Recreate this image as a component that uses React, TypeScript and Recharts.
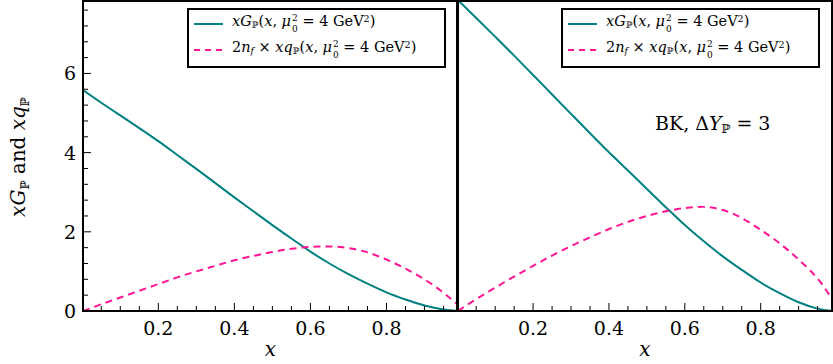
import React from "react";
import { LineChart, Line, XAxis, YAxis, Legend } from "recharts";

// x grid shared by both panels
const xs = [0.002, 0.05, 0.1, 0.15, 0.2, 0.25, 0.3, 0.35, 0.4, 0.45, 0.5, 0.55, 0.6, 0.65, 0.7, 0.75, 0.8, 0.85, 0.9, 0.95, 0.988];

// left panel
const gluonLeft = [5.58, 5.26, 4.94, 4.62, 4.29, 3.94, 3.59, 3.23, 2.87, 2.52, 2.17, 1.83, 1.5, 1.2, 0.93, 0.69, 0.47, 0.29, 0.14, 0.04, 0];
const quarkLeft = [0, 0.17, 0.34, 0.51, 0.68, 0.85, 1.0, 1.14, 1.28, 1.39, 1.49, 1.57, 1.62, 1.63, 1.59, 1.48, 1.3, 1.07, 0.8, 0.46, 0.15];

// right panel (BK, dY = 3)
const gluonRight = [7.85, 7.4, 6.93, 6.45, 5.96, 5.47, 4.98, 4.49, 4.01, 3.55, 3.08, 2.62, 2.17, 1.76, 1.38, 1.04, 0.72, 0.45, 0.22, 0.06, 0];
const quarkRight = [0, 0.3, 0.59, 0.87, 1.14, 1.4, 1.64, 1.86, 2.07, 2.25, 2.4, 2.52, 2.6, 2.63, 2.55, 2.35, 2.05, 1.71, 1.3, 0.82, 0.3];

const xTicks = [0.05, 0.1, 0.15, 0.2, 0.25, 0.3, 0.35, 0.4, 0.45, 0.5, 0.55, 0.6, 0.65, 0.7, 0.75, 0.8, 0.85, 0.9, 0.95];
const xTickLabels = ["0.2", "0.4", "0.6", "0.8"];
const yTicks = [0, 0.4, 0.8, 1.2, 1.6, 2, 2.4, 2.8, 3.2, 3.6, 4, 4.4, 4.8, 5.2, 5.6, 6, 6.4, 6.8, 7.2, 7.6];
const yTickLabels = ["0", "2", "4", "6"];

const xDomain = [0.002, 0.988];
const yDomain = [0, 7.83];

const TEAL = "#008080";
const PINK = "#ff1493";
const font = "DejaVu Serif";

const findLabel = (labels: string[], v: number) =>
  labels.find((l) => Math.abs(Number(l) - v) < 1e-6);

function BottomTick(props: any) {
  const { x, y, payload } = props;
  const label = findLabel(xTickLabels, payload.value);
  return (
    <g>
      <path d={`M${x},${y}V${y - (label ? 8 : 5)}`} stroke="#000" strokeWidth={1} fill="none" />
      {label && (
        <text x={x} y={y + 24} textAnchor="middle" fontSize={19} fontFamily={font} fill="#000">
          {label}
        </text>
      )}
    </g>
  );
}

function TopTick(props: any) {
  const { x, y, payload } = props;
  const label = findLabel(xTickLabels, payload.value);
  return <path d={`M${x},${y}V${y + (label ? 8 : 5)}`} stroke="#000" strokeWidth={1} fill="none" />;
}

function LeftTick(props: any) {
  const { x, y, payload, showLabels } = props;
  const label = findLabel(yTickLabels, payload.value);
  return (
    <g>
      <path d={`M${x},${y}H${x + (label ? 8 : 5)}`} stroke="#000" strokeWidth={1} fill="none" />
      {label && showLabels && (
        <text x={x - 7} y={y + 7} textAnchor="end" fontSize={19} fontFamily={font} fill="#000">
          {label}
        </text>
      )}
    </g>
  );
}

function RightTick(props: any) {
  const { x, y, payload } = props;
  const label = findLabel(yTickLabels, payload.value);
  return <path d={`M${x},${y}H${x - (label ? 8 : 5)}`} stroke="#000" strokeWidth={1} fill="none" />;
}

const sub: React.CSSProperties = { fontSize: "0.62em", verticalAlign: "-0.25em", lineHeight: 0 };
const sup: React.CSSProperties = { fontSize: "0.66em", verticalAlign: "0.45em", lineHeight: 0 };

function Scale() {
  return (
    <>
      (<i>x</i>, <i>μ</i>
      <span
        style={{
          display: "inline-flex",
          flexDirection: "column",
          fontSize: "0.62em",
          lineHeight: 1.25,
          verticalAlign: "0.5em",
          marginLeft: 1,
        }}
      >
        <span>2</span>
        <span>0</span>
      </span>
      {" "}= 4 GeV<span style={sup}>2</span>)
    </>
  );
}

const legendText: Record<string, React.ReactNode> = {
  gluon: (
    <>
      <i>xG</i>
      <span style={sub}>ℙ</span>
      <Scale />
    </>
  ),
  quark: (
    <>
      2<i>n</i>
      <span style={sub}>
        <i>f</i>
      </span>{" "}
      × <i>xq</i>
      <span style={sub}>ℙ</span>
      <Scale />
    </>
  ),
};

function LegendBox(props: any) {
  const { payload } = props;
  return (
    <div
      style={{
        border: "2px solid #000",
        background: "#fff",
        height: 55,
        paddingTop: 1,
        fontFamily: font,
        fontSize: 14.5,
        color: "#000",
        boxSizing: "content-box",
      }}
    >
      {(payload || []).map((p: any) => (
        <div key={p.dataKey} style={{ height: 26, display: "flex", alignItems: "center", whiteSpace: "nowrap" }}>
          <svg width={29} height={6} style={{ marginLeft: 5, marginRight: 9 }}>
            <path
              d="M0,3H29"
              stroke={p.color}
              strokeWidth={2}
              strokeDasharray={p.dataKey === "quark" ? "6 5" : undefined}
            />
          </svg>
          <span>{legendText[p.dataKey]}</span>
        </div>
      ))}
    </div>
  );
}

function XLabel(props: any) {
  const { viewBox } = props;
  return (
    <text
      x={viewBox.x + viewBox.width / 2}
      y={356}
      textAnchor="middle"
      fontSize={20}
      fontStyle="italic"
      fontFamily={font}
      fill="#000"
    >
      x
    </text>
  );
}

function YLabel() {
  return (
    <text
      transform="translate(25,157) rotate(-90)"
      textAnchor="middle"
      fontSize={20}
      fontFamily={font}
      fill="#000"
    >
      <tspan fontStyle="italic">xG</tspan>
      <tspan fontSize={12} dy={4}>ℙ</tspan>
      <tspan dy={-4}> and </tspan>
      <tspan fontStyle="italic">xq</tspan>
      <tspan fontSize={12} dy={4}>ℙ</tspan>
    </text>
  );
}

interface PanelProps {
  gluon: number[];
  quark: number[];
  width: number;
  leftWidth: number;
  marginRight: number;
  showYLabels: boolean;
  legendLeft: number;
}

function Panel({ gluon, quark, width, leftWidth, marginRight, showYLabels, legendLeft }: PanelProps) {
  const data = xs.map((x, i) => ({ x, gluon: gluon[i], quark: quark[i] }));
  return (
    <LineChart width={width} height={364} data={data} margin={{ top: 1, right: marginRight, bottom: 0, left: 0 }}>
      <XAxis
        xAxisId="b"
        dataKey="x"
        type="number"
        domain={xDomain}
        allowDataOverflow
        ticks={xTicks}
        interval={0}
        height={53}
        tickSize={0}
        tickMargin={0}
        axisLine={false}
        tickLine={false}
        tick={<BottomTick />}
        label={{ content: <XLabel /> }}
      />
      <XAxis
        xAxisId="t"
        orientation="top"
        dataKey="x"
        type="number"
        domain={xDomain}
        allowDataOverflow
        ticks={xTicks}
        interval={0}
        height={0}
        tickSize={0}
        tickMargin={0}
        axisLine={false}
        tickLine={false}
        tick={<TopTick />}
      />
      <YAxis
        yAxisId="l"
        type="number"
        domain={yDomain}
        allowDataOverflow
        ticks={yTicks}
        interval={0}
        width={leftWidth}
        tickSize={0}
        tickMargin={0}
        axisLine={false}
        tickLine={false}
        tick={<LeftTick showLabels={showYLabels} />}
        label={showYLabels ? { content: <YLabel /> } : undefined}
      />
      <YAxis
        yAxisId="r"
        orientation="right"
        type="number"
        domain={yDomain}
        allowDataOverflow
        ticks={yTicks}
        interval={0}
        width={0}
        tickSize={0}
        tickMargin={0}
        axisLine={false}
        tickLine={false}
        tick={<RightTick />}
      />
      <Legend
        layout="vertical"
        align="center"
        verticalAlign="middle"
        content={<LegendBox />}
        wrapperStyle={{ left: legendLeft, top: 8, width: 259 }}
      />
      <Line
        xAxisId="b"
        yAxisId="l"
        dataKey="gluon"
        name="gluon"
        type="natural"
        stroke={TEAL}
        strokeWidth={2}
        dot={false}
        isAnimationActive={false}
      />
      <Line
        xAxisId="b"
        yAxisId="l"
        dataKey="quark"
        name="quark"
        type="natural"
        stroke={PINK}
        strokeWidth={2}
        strokeDasharray="7 5"
        dot={false}
        isAnimationActive={false}
      />
    </LineChart>
  );
}

const frameStyle: React.CSSProperties = {
  position: "absolute",
  top: 0,
  height: 312,
  width: 376,
  border: "2px solid #000",
  boxSizing: "border-box",
  pointerEvents: "none",
};

export default function App() {
  return (
    <div style={{ position: "fixed", left: 0, top: 0, width: 833, height: 364, background: "#fff" }}>
      <div style={{ position: "absolute", left: 0, top: 0 }}>
        <Panel
          gluon={gluonLeft}
          quark={quarkLeft}
          width={458}
          leftWidth={83}
          marginRight={0}
          showYLabels
          legendLeft={187}
        />
      </div>
      <div style={{ position: "absolute", left: 458, top: 0 }}>
        <Panel
          gluon={gluonRight}
          quark={quarkRight}
          width={375}
          leftWidth={0}
          marginRight={1}
          showYLabels={false}
          legendLeft={103}
        />
      </div>
      <div style={{ ...frameStyle, left: 82 }} />
      <div style={{ ...frameStyle, left: 457 }} />
      <div
        style={{
          position: "absolute",
          left: 655,
          top: 114,
          fontFamily: font,
          fontSize: 19,
          lineHeight: 1,
          whiteSpace: "nowrap",
          color: "#000",
        }}
      >
        BK, Δ<i>Y</i>
        <span style={sub}>ℙ</span> = 3
      </div>
    </div>
  );
}
